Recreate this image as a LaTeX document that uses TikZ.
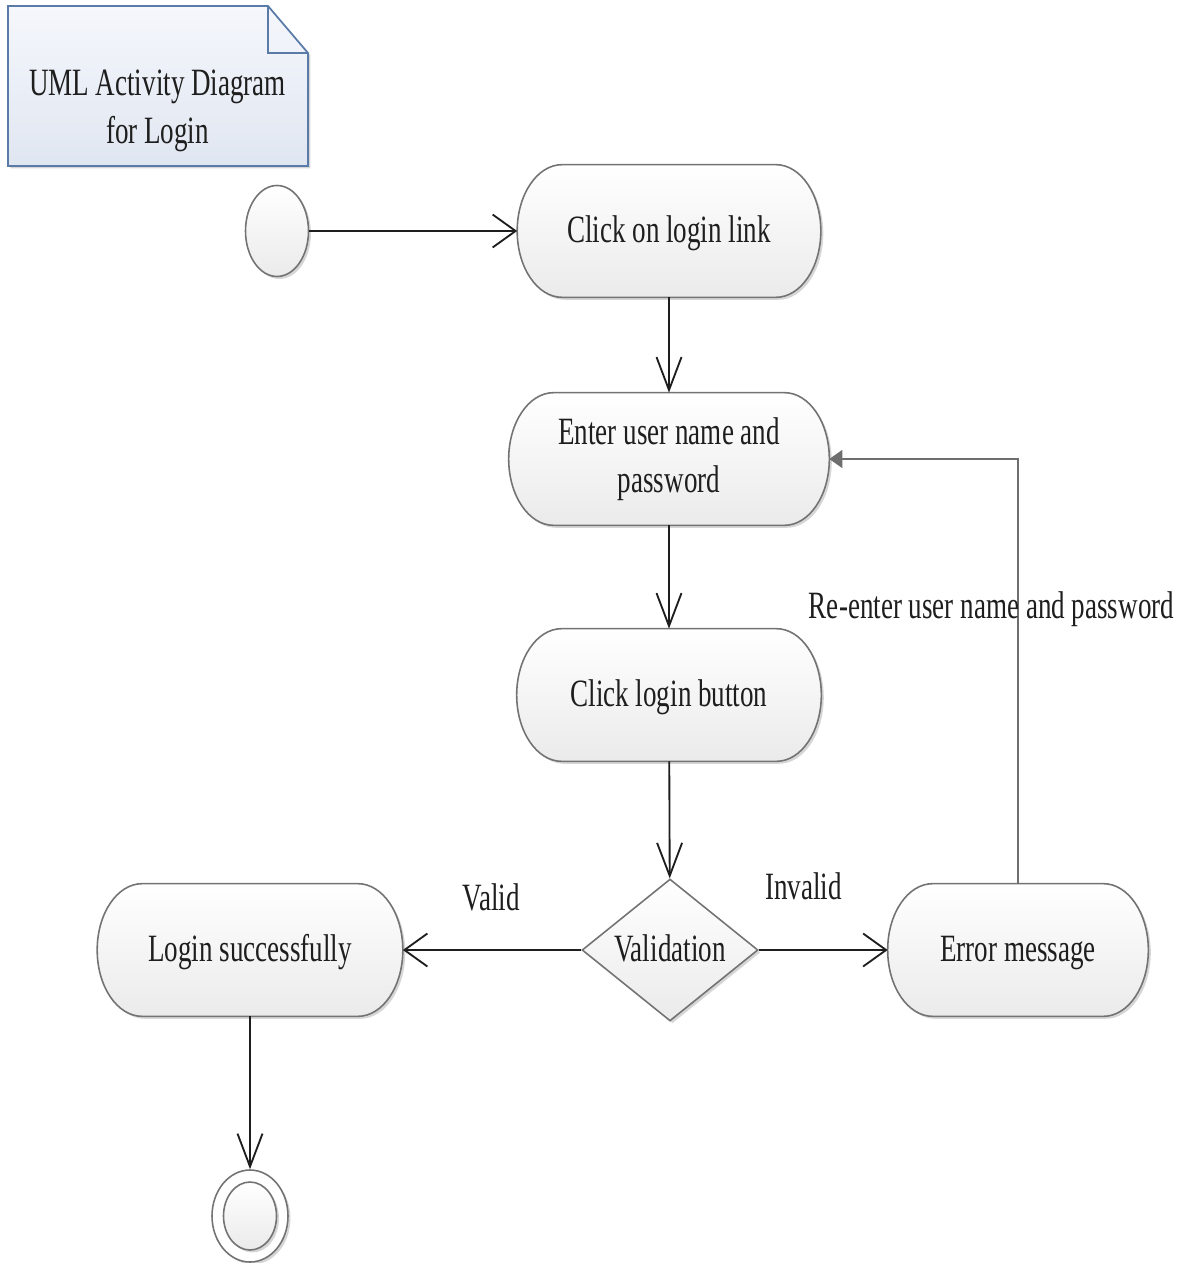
\documentclass[tikz,border=0pt]{standalone}
\usepackage{fontspec}
\setmainfont{Liberation Serif}[FakeStretch=0.70]
\usetikzlibrary{arrows.meta,shapes.geometric,shadows,calc}
\pgfdeclarelayer{background}
\pgfsetlayers{background,main}

\definecolor{edge}{HTML}{737373}
\definecolor{ink}{HTML}{1E1E1E}
\definecolor{noteedge}{HTML}{5A7BA8}
\definecolor{notetop}{HTML}{F5F7FC}
\definecolor{notebot}{HTML}{E0E6F1}
\definecolor{loopline}{HTML}{6E6E6E}

% horizontal radius of the rounded ends of an action box
\newlength\capr
\setlength\capr{0.9cm}

\tikzset{
  vtip/.tip={Straight Barb[length=0.66cm,width=0.5cm]},
  htip/.tip={Straight Barb[length=0.46cm,width=0.66cm]},
  txt/.style={text=ink, font=\fontsize{22}{27.5}\selectfont, align=center, inner sep=0pt},
  oneline/.style={text height=17pt, text depth=4pt},
  actbox/.style={txt, rectangle, minimum height=2.64cm},
  softshadow/.style={drop shadow={shadow xshift=1.4pt, shadow yshift=-1.4pt, opacity=0.16, fill=black}},
  actshape/.style={draw=edge, line width=0.9pt, top color=white, bottom color=black!8, softshadow},
  decision/.style={txt, diamond, aspect=1.24, minimum width=3.52cm, minimum height=2.84cm,
    draw=edge, line width=0.9pt, top color=white, bottom color=black!8, softshadow},
  startnode/.style={ellipse, inner sep=0pt, minimum width=1.26cm, minimum height=1.82cm,
    draw=edge, line width=0.9pt, top color=white, bottom color=black!8, softshadow},
  flow/.style={draw=ink, line width=1.05pt},
  backflow/.style={draw=loopline, line width=0.8pt, -{Triangle[length=0.26cm,width=0.36cm]}},
  notebox/.style={draw=noteedge, line width=1pt, top color=notetop, bottom color=notebot, softshadow},
}

% rounded action outline with elliptical ends, drawn around a rectangular node
\newcommand\stadiumpath[1]{%
  \path[actshape] let \p1=(#1.north), \p2=(#1.south), \n1={0.5*(\y1-\y2)} in
    ([xshift=\capr]#1.north west) -- ([xshift=-\capr]#1.north east)
    arc[start angle=90, end angle=-90, x radius=\capr, y radius={\n1*1pt}]
    -- ([xshift=\capr]#1.south west)
    arc[start angle=270, end angle=90, x radius=\capr, y radius={\n1*1pt}]
    -- cycle;}

\begin{document}
\begin{tikzpicture}[x=0.02cm, y=-0.02cm]
  \useasboundingbox (0,0) rectangle (1196,1263);

  % title note
  \node[txt] (notetext) at (157.5,111) {UML Activity Diagram\\for Login};

  % action states
  \node[actbox, oneline, minimum width=6.06cm] (click)  at (669,231) {Click on login link};
  \node[actbox, minimum width=6.40cm]          (enter)  at (669,459) {Enter user name and\\password};
  \node[actbox, oneline, minimum width=6.08cm] (button) at (669,695) {Click login button};
  \node[actbox, oneline, minimum width=6.10cm] (login)  at (250,950) {Login successfully};
  \node[actbox, oneline, minimum width=5.20cm] (error)  at (1018,950) {Error message};

  % decision
  \node[decision, oneline] (valid) at (670,950) {Validation};

  % initial and final states
  \node[startnode] (start) at (277,231) {};
  \node[ellipse, inner sep=0pt, minimum width=1.52cm, minimum height=1.84cm,
        draw=edge, line width=0.9pt, fill=white, softshadow] (stop) at (250,1216) {};
  \node[startnode, minimum width=1.06cm, minimum height=1.36cm, drop shadow={opacity=0}] (stopin) at (250,1216) {};

  \begin{pgfonlayer}{background}
    \path[notebox] (8,6) -- (268,6) -- (308,53) -- (308,166) -- (8,166) -- cycle;
    \draw[noteedge, line width=1pt] (268,6) -- (268,53) -- (308,53);
    \stadiumpath{click}
    \stadiumpath{enter}
    \stadiumpath{button}
    \stadiumpath{login}
    \stadiumpath{error}
  \end{pgfonlayer}

  % control flow
  \draw[flow, -htip] (start) -- (click);
  \draw[flow, -vtip] (click) -- (enter);
  \draw[flow, -vtip] (enter) -- (button);
  \draw[flow, -vtip] (button) -- (valid);
  \draw[flow, -htip] (valid) -- (login);
  \draw[flow, -htip] (valid) -- (error);
  \draw[flow, -vtip] (login) -- (stop);
  \draw[backflow] (error.north) |- (enter.east);

  % guard and flow labels
  \node[txt, anchor=base] (validlbl)   at (491,910)   {Valid};
  \node[txt, anchor=base] (invalidlbl) at (803.5,899) {Invalid};
  \node[txt, anchor=base] (retrylbl)   at (991.5,618) {Re-enter user name and password};
\end{tikzpicture}
\end{document}
